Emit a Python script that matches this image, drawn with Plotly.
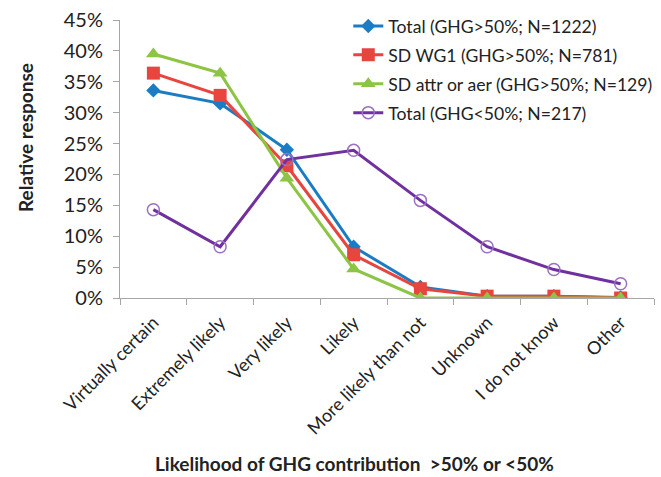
import plotly.graph_objs as go

# Categories along the x-axis
categories = ['Virtually certain', 'Extremely likely', 'Very likely', 'Likely',
              'More likely than not', 'Unknown', 'I do not know', 'Other']

# Relative response per series (fractions)
total_gt50 = [0.336, 0.315, 0.240, 0.083, 0.018, 0.003, 0.003, 0.001]
sd_wg1_gt50 = [0.364, 0.328, 0.214, 0.070, 0.015, 0.003, 0.003, 0.000]
sd_attr_gt50 = [0.395, 0.364, 0.194, 0.047, 0.000, 0.000, 0.000, 0.000]
total_lt50 = [0.143, 0.083, 0.224, 0.239, 0.158, 0.083, 0.046, 0.023]

y_ticks = [0, 0.05, 0.10, 0.15, 0.20, 0.25, 0.30, 0.35, 0.40, 0.45]

FONT = 'Lato'

fig = go.Figure()

# Series with >50% GHG contribution
fig.add_trace(go.Scatter(
    x=categories, y=total_gt50, mode='lines+markers',
    name='Total (GHG>50%; N=1222)', legendgroup='a',
    line=dict(color='#1b7cc4', width=3),
    marker=dict(symbol='diamond', size=11, color='#1b7cc4'),
))
fig.add_trace(go.Scatter(
    x=categories, y=sd_wg1_gt50, mode='lines+markers',
    name='SD WG1 (GHG>50%; N=781)', legendgroup='b',
    line=dict(color='#e8453f', width=3),
    marker=dict(symbol='square', size=13, color='#e8453f'),
))
fig.add_trace(go.Scatter(
    x=categories, y=sd_attr_gt50, mode='lines+markers',
    name='SD attr or aer (GHG>50%; N=129)', legendgroup='c',
    line=dict(color='#8cc443', width=3),
    marker=dict(symbol='triangle-up', size=13, color='#8cc443'),
))

# Series with <50% GHG contribution
fig.add_trace(go.Scatter(
    x=categories, y=total_lt50, mode='lines+markers',
    name='Total (GHG<50%; N=217)', legendgroup='d',
    line=dict(color='#7030a0', width=3),
    marker=dict(symbol='circle-open', size=12, color='#9a6fc6', line=dict(width=1.5)),
))

fig.update_layout(
    width=661,
    height=477,
    margin=dict(l=120, r=7, t=20, b=179, autoexpand=False),
    paper_bgcolor='white',
    plot_bgcolor='white',
    font=dict(family=FONT, size=18, color='#222222'),
    showlegend=True,
    legend=dict(
        x=0.4275, y=1.043, xanchor='left', yanchor='top',
        bgcolor='rgba(0,0,0,0)', font=dict(size=17.6),
        traceorder='grouped', tracegroupgap=3, itemwidth=30,
    ),
    xaxis=dict(
        type='category',
        showline=True, linecolor='#a6a6a6', linewidth=1,
        ticks='outside', tickson='boundaries', ticklen=6, tickcolor='#a6a6a6',
        tickangle=-45, tickfont=dict(size=18), ticklabelstandoff=6,
        showgrid=False, zeroline=False,
        range=[-0.5, 7.5],
    ),
    yaxis=dict(
        range=[0, 0.45],
        tickvals=y_ticks, tickformat='.0%',
        showline=True, linecolor='#a6a6a6', linewidth=1,
        ticks='outside', ticklen=6, tickcolor='#a6a6a6',
        ticklabelstandoff=6,
        showgrid=False, zeroline=False,
        tickfont=dict(size=20),
    ),
    annotations=[
        dict(text='<b>Relative response</b>', textangle=-90,
             xref='paper', yref='paper', x=-0.178, y=0.579,
             xanchor='center', yanchor='middle', showarrow=False,
             font=dict(size=19)),
        dict(text='<b>Likelihood of GHG contribution\u00a0 >50% or <50%</b>',
             xref='paper', yref='paper', x=0.439, y=-0.597,
             xanchor='center', yanchor='middle', showarrow=False,
             font=dict(size=19)),
    ],
)

# drop the default page margin so the figure sits at the window origin
fig.write_html("out.html", config=dict(displayModeBar=False),
               post_script="document.body.style.margin='0';")
